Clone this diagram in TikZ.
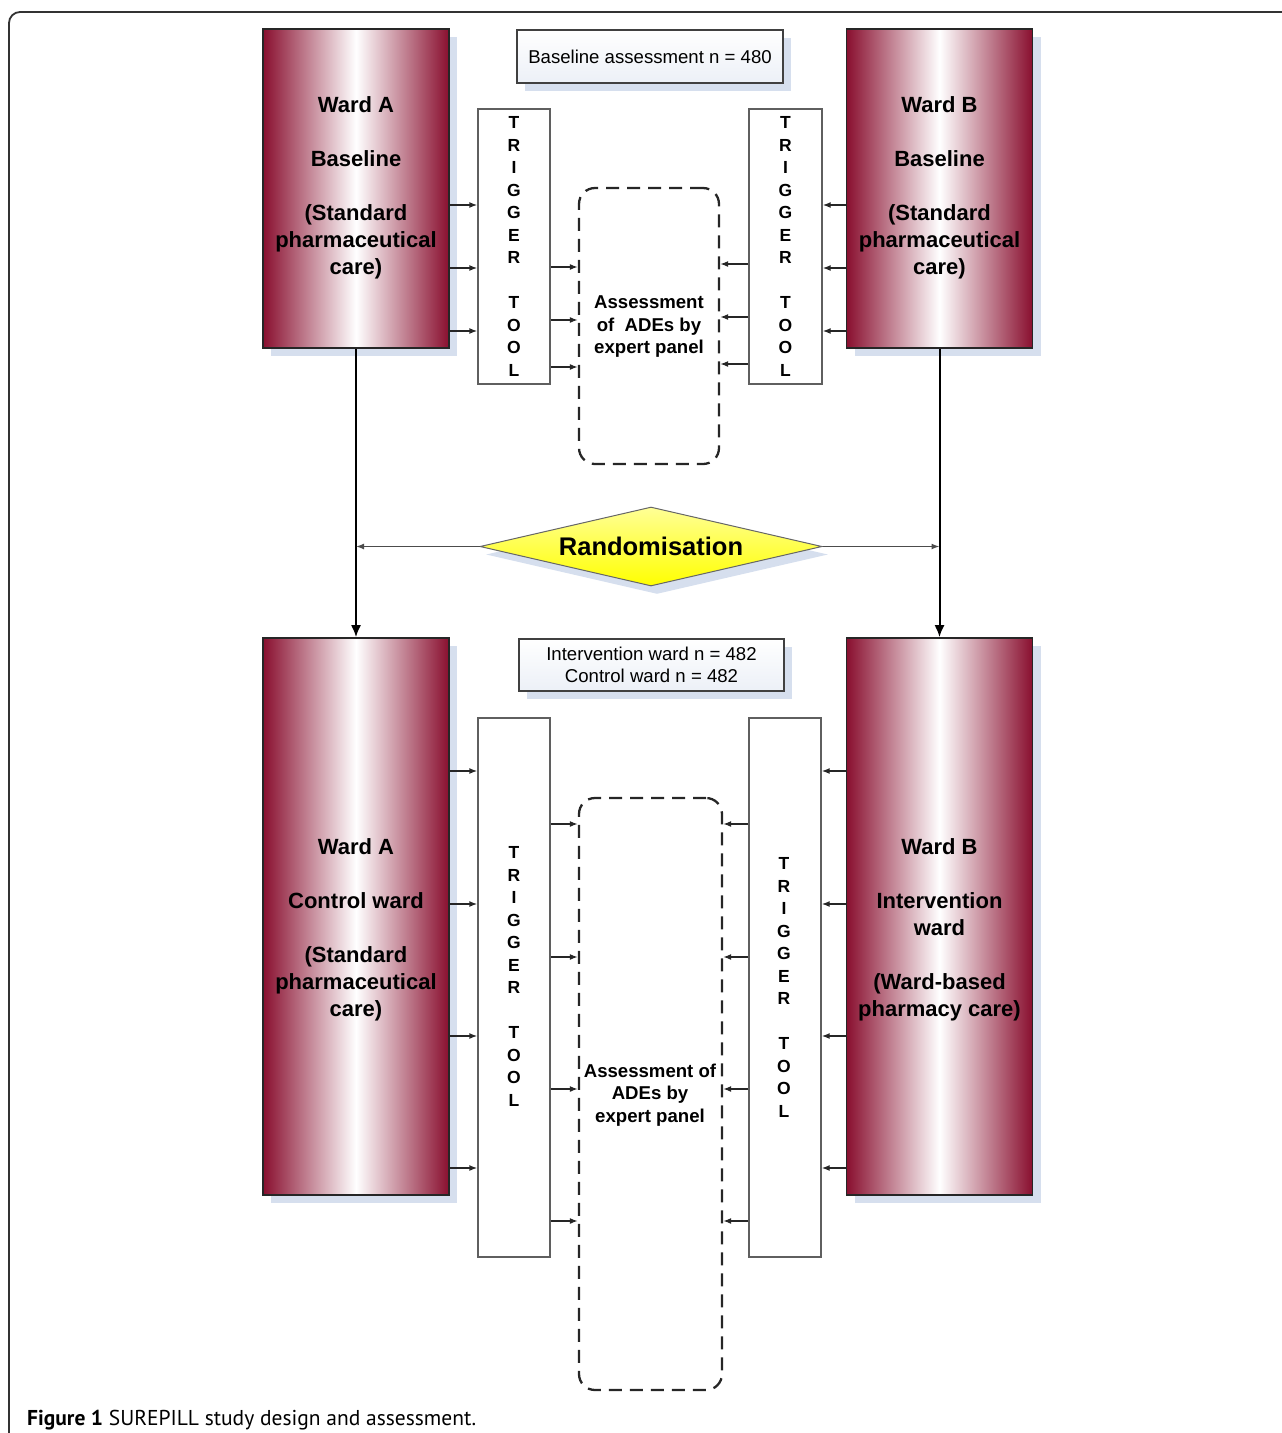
\documentclass[tikz,border=0pt]{standalone}
\usepackage{fontspec}
\setmainfont{Liberation Sans}
\newfontfamily\capfont{PT Sans}
\usetikzlibrary{shapes.geometric,arrows.meta,shadows}
\definecolor{wardred}{RGB}{137,15,47}
\definecolor{shadowblue}{RGB}{214,223,238}
\definecolor{boxgrey}{RGB}{95,95,95}
\definecolor{paleblue}{RGB}{236,240,247}
\definecolor{paleyellow}{RGB}{255,255,150}
\begin{document}
\begin{tikzpicture}[x=1pt,y=-1pt,
  ward/.style={rectangle, draw=black!85, line width=1.6pt, left color=wardred, right color=wardred, middle color=white,
    minimum width=186pt, inner sep=0pt,
    general shadow={fill=shadowblue, shadow xshift=8pt, shadow yshift=-8pt}},
  wardtext/.style={align=center, font=\bfseries\fontsize{22}{27}\selectfont},
  trig/.style={rectangle, draw=boxgrey, line width=1.4pt, fill=white, minimum width=72pt, inner sep=0pt},
  trigtext/.style={align=center, font=\bfseries\fontsize{17.5}{22.5}\selectfont},
  panel/.style={rectangle, draw=black!85, line width=2.3pt, dash pattern=on 13pt off 8pt, rounded corners=16pt, inner sep=0pt},
  paneltext/.style={align=center, font=\bfseries\fontsize{18.6}{22.5}\selectfont},
  infobox/.style={rectangle, draw=black!75, line width=1.4pt, top color=white, bottom color=paleblue,
    general shadow={fill=shadowblue, shadow xshift=8pt, shadow yshift=-8pt},
    inner sep=0pt, align=center, font=\fontsize{18.6}{22.5}\selectfont},
  randbox/.style={diamond, aspect=4.33, minimum width=342pt, minimum height=79pt, inner sep=0pt,
    draw=black!60, line width=1pt, top color=paleyellow, bottom color=yellow,
    general shadow={fill=shadowblue, shadow xshift=6pt, shadow yshift=-8pt},
    font=\bfseries\fontsize{25.5}{30}\selectfont},
  arr/.style={draw=black!85, line width=1.4pt, -{Latex[length=8pt,width=6pt]}},
  bigarr/.style={draw=black, line width=2pt, -{Latex[length=12pt,width=10pt]}},
  randarr/.style={draw=black!70, line width=1.4pt, -{Latex[length=8pt,width=6pt]}}
]
\useasboundingbox (0,0) rectangle (1282,1433);
% outer frame
\draw[line width=1.8pt, black!80, rounded corners=11pt] (9,1500) -- (9,12) -- (1350,12);

% info boxes
\node[infobox, minimum width=266pt, minimum height=53pt] (base) at (650,56.5) {Baseline assessment n = 480};
\node[infobox, minimum width=265pt, minimum height=52pt] (info) at (651.5,665) {Intervention ward n = 482\\Control ward n = 482};

% wards (top)
\node[ward, minimum height=319pt] (WA1) at (356,188.5) {};
\node[ward, minimum height=319pt] (WB1) at (939.5,188.5) {};
\node[wardtext] (tWA1) at (356,188) {Ward A\\[27pt]Baseline\\[27pt](Standard\\pharmaceutical\\care)};
\node[wardtext] (tWB1) at (939.5,188) {Ward B\\[27pt]Baseline\\[27pt](Standard\\pharmaceutical\\care)};

% wards (bottom)
\node[ward, minimum height=557pt] (WA2) at (356,916.5) {};
\node[ward, minimum height=557pt] (WB2) at (939.5,916.5) {};
\node[wardtext] (tWA2) at (356,930) {Ward A\\[27pt]Control ward\\[27pt](Standard\\pharmaceutical\\care)};
\node[wardtext] (tWB2) at (939.5,930) {Ward B\\[27pt]Intervention\\ward\\[27pt](Ward-based\\pharmacy care)};

% trigger tools
\node[trig, minimum height=275pt] (TA1) at (514,246.5) {};
\node[trig, minimum height=275pt, minimum width=73pt] (TB1) at (785.5,246.5) {};
\node[trig, minimum height=539pt] (TA2) at (514,987.5) {};
\node[trig, minimum height=539pt] (TB2) at (785,987.5) {};
\node[trigtext] (tTA1) at (514,246.5) {T\\R\\I\\G\\G\\E\\R\\[22.5pt]T\\O\\O\\L};
\node[trigtext] (tTB1) at (785.5,246.5) {T\\R\\I\\G\\G\\E\\R\\[22.5pt]T\\O\\O\\L};
\node[trigtext] (tTA2) at (514,976.5) {T\\R\\I\\G\\G\\E\\R\\[22.5pt]T\\O\\O\\L};
\node[trigtext] (tTB2) at (784,987.5) {T\\R\\I\\G\\G\\E\\R\\[22.5pt]T\\O\\O\\L};

% expert panels
\node[panel, minimum width=140pt, minimum height=276pt] (P1) at (649,326) {};
\node[panel, minimum width=143pt, minimum height=592pt] (P2) at (650.5,1094) {};
\node[paneltext] (tP1) at (649,327) {Assessment\\of~ ADEs by\\expert panel};
\node[paneltext] (tP2) at (650,1095) {Assessment of\\ADEs by\\expert panel};

% randomisation
\node[randbox] (R) at (651,546.5) {Randomisation};

% top connectors
\foreach \yy in {205,268,331} {
  \draw[arr] (WA1.east |- 0,\yy) -- (TA1.west |- 0,\yy);
  \draw[arr] (WB1.west |- 0,\yy) -- (TB1.east |- 0,\yy);
}
\foreach \yy in {267,320,367}
  \draw[arr] (TA1.east |- 0,\yy) -- (P1.west |- 0,\yy);
\foreach \yy in {264,317,364}
  \draw[arr] (TB1.west |- 0,\yy) -- (P1.east |- 0,\yy);

% bottom connectors
\foreach \yy in {771,904,1036,1168} {
  \draw[arr] (WA2.east |- 0,\yy) -- (TA2.west |- 0,\yy);
  \draw[arr] (WB2.west |- 0,\yy) -- (TB2.east |- 0,\yy);
}
\foreach \yy in {824,957,1089,1221} {
  \draw[arr] (TA2.east |- 0,\yy) -- (P2.west |- 0,\yy);
  \draw[arr] (TB2.west |- 0,\yy) -- (P2.east |- 0,\yy);
}

% main flow
\draw[bigarr] (WA1.south) -- (WA2.north);
\draw[bigarr] (WB1.south) -- (WB2.north);
\draw[randarr] (R.west) -- (R.west -| WA1.south);
\draw[randarr] (R.east) -- (R.east -| WB1.south);

% caption
\node[anchor=base west, inner sep=0pt, font=\capfont\fontsize{21.5}{24}\selectfont] (cap) at (27,1425)
  {\textbf{Figure 1} SUREPILL study design and assessment.};
\end{tikzpicture}
\end{document}
